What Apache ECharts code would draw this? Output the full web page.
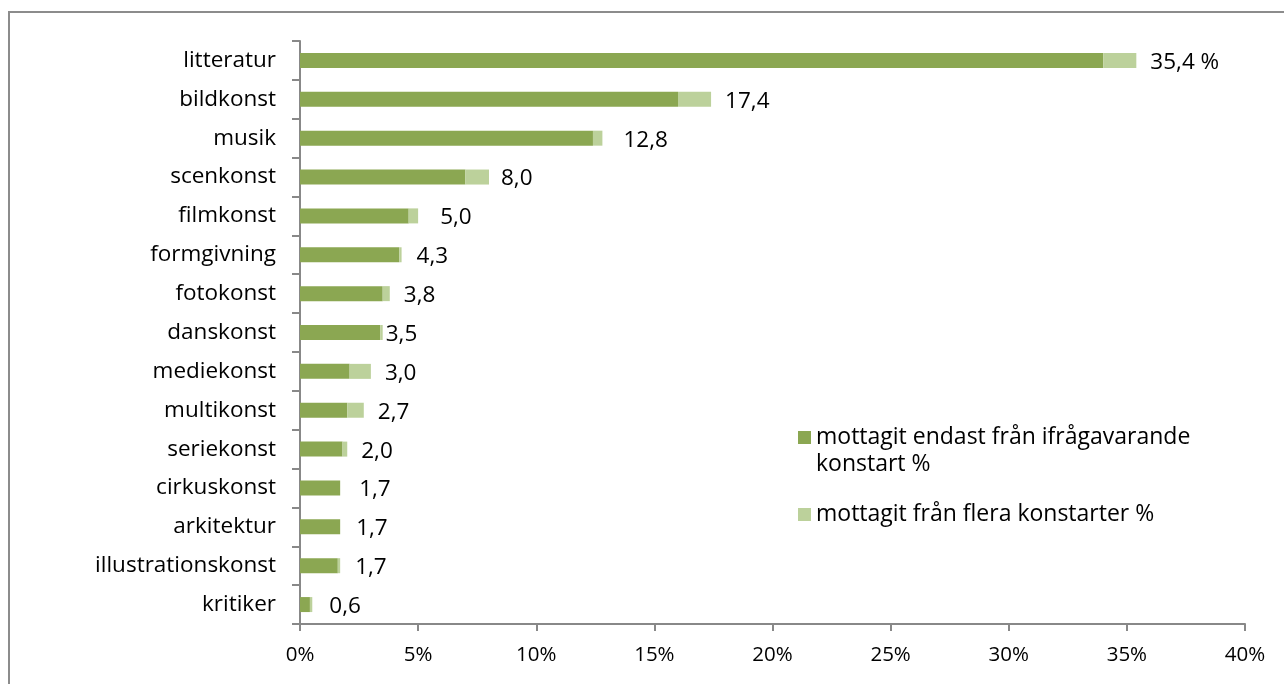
<!DOCTYPE html>
<html>
<head>
<meta charset="utf-8">
<script src="https://cdn.jsdelivr.net/npm/echarts@6/dist/echarts.min.js"></script>
<style>
  html, body { margin: 0; padding: 0; background: #fff; }
  #chart { width: 1284px; height: 684px; }
</style>
</head>
<body>
<div id="chart"></div>
<script>
// konstarter, uppifrån och ned
const categories = [
  "litteratur", "bildkonst", "musik", "scenkonst", "filmkonst",
  "formgivning", "fotokonst", "danskonst", "mediekonst", "multikonst",
  "seriekonst", "cirkuskonst", "arkitektur", "illustrationskonst", "kritiker"
];
// mottagit endast från ifrågavarande konstart %
const onlyThis = [34.0, 16.0, 12.4, 7.0, 4.6, 4.2, 3.5, 3.4, 2.1, 2.0, 1.8, 1.7, 1.7, 1.6, 0.42];
// mottagit från flera konstarter %
const several = [1.4, 1.4, 0.4, 1.0, 0.4, 0.1, 0.3, 0.1, 0.9, 0.7, 0.2, 0.0, 0.0, 0.1, 0.1];
// summaetiketter
const totalLabels = ["35,4 %", "17,4", "12,8", "8,0", "5,0", "4,3", "3,8", "3,5", "3,0", "2,7", "2,0", "1,7", "1,7", "1,7", "0,6"];
const xTicks = [0, 5, 10, 15, 20, 25, 30, 35, 40];

const legendNames = ["mottagit endast från ifrågavarande\nkonstart %", "mottagit från flera konstarter %"];

// etiketterna i originalet är lite handplacerade
const labelNudge = [0, 0, 7, -2, 8, 1, 0, -11, 0, 0, 0, 5, 2, 1, 3];

const font = "Open Sans";
const dark = "#8BA752";
const light = "#BCD19B";

const chart = echarts.init(document.getElementById("chart"));

const option = {
  backgroundColor: "#fff",
  animation: false,
  textStyle: { fontFamily: font, color: "#000" },
  graphic: [{
    type: "rect",
    shape: { x: 9, y: 12, width: 1300, height: 700 },
    style: { fill: "none", stroke: "#8c8c8c", lineWidth: 2 },
    silent: true
  }],
  grid: { left: 300, right: 39, top: 41, bottom: 60 },
  legend: {
    orient: "vertical",
    left: 793,
    top: 392,
    itemWidth: 13,
    itemHeight: 13,
    itemGap: 23,
    icon: "rect",
    textStyle: { fontFamily: font, fontSize: 23, color: "#000", lineHeight: 27 },
    // tom första rad så att rutan hamnar vid första textraden
    formatter: name => (name === legendNames[0] ? "\n" + name : name),
    data: legendNames
  },
  xAxis: {
    type: "value",
    min: xTicks[0],
    max: xTicks[xTicks.length - 1],
    interval: 5,
    splitLine: { show: false },
    axisLine: { show: true, lineStyle: { color: "#888", width: 2 } },
    axisTick: { show: true, length: 7, lineStyle: { color: "#888", width: 2 } },
    axisLabel: {
      margin: 21,
      fontFamily: font,
      fontSize: 20.5,
      color: "#000",
      formatter: v => v + "%"
    }
  },
  yAxis: {
    type: "category",
    inverse: true,
    data: categories,
    axisLine: { show: true, lineStyle: { color: "#888", width: 2 } },
    axisTick: { show: true, length: 8, alignWithLabel: false, lineStyle: { color: "#888", width: 2 } },
    axisLabel: { margin: 24, fontFamily: font, fontSize: 22.5, color: "#000" }
  },
  series: [
    {
      name: legendNames[0],
      type: "bar",
      stack: "total",
      barWidth: 15,
      itemStyle: { color: dark },
      data: onlyThis
    },
    {
      name: legendNames[1],
      type: "bar",
      stack: "total",
      barWidth: 15,
      itemStyle: { color: light },
      data: several.map((v, i) => ({
        value: v,
        label: {
          show: true,
          position: "right",
          distance: 14 + labelNudge[i],
          offset: [0, 2],
          formatter: () => totalLabels[i],
          fontFamily: font,
          fontSize: 22.5,
          color: "#000"
        }
      }))
    }
  ]
};

chart.setOption(option);
</script>
</body>
</html>
